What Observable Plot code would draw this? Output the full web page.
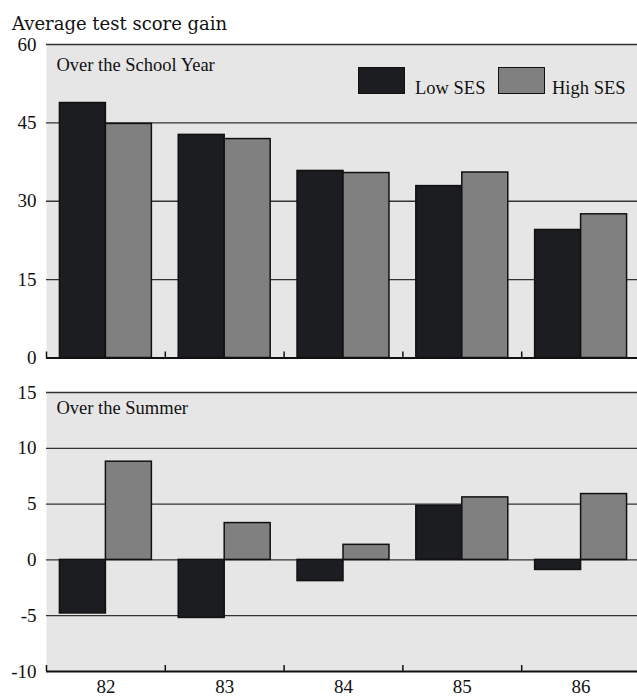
<!DOCTYPE html>
<html>
<head>
<meta charset="utf-8">
<script src="https://cdn.jsdelivr.net/npm/d3@7"></script>
<script src="https://cdn.jsdelivr.net/npm/@observablehq/plot@0.6"></script>
<style>
  html, body { margin: 0; padding: 0; background: #fff; }
  #wrap { position: relative; width: 637px; height: 697px; overflow: hidden; font-family: "Liberation Serif", serif; color: #111; }
  #title { position: absolute; left: 12px; top: 15px; font-family: "DejaVu Serif", serif; font-size: 18px; line-height: 1; color: #111; white-space: nowrap; }
  .panel { position: absolute; left: 0; }
  .sw { position: absolute; top: 67px; width: 45px; height: 25px; border: 1.5px solid #111; }
  .lab { position: absolute; top: 79px; font-size: 18.5px; line-height: 1; white-space: nowrap; color: #111; }
</style>
</head>
<body>
<div id="wrap">
  <div id="title">Average test score gain</div>
  <div id="top" class="panel" style="top:34px"></div>
  <div id="bottom" class="panel" style="top:366px"></div>
</div>
<script>
const years = [82, 83, 84, 85, 86];
const groups = ["Low SES", "High SES"];
const colors = ["#1c1d21", "#808080"];
const schoolLow  = [48.8, 42.7, 35.8, 32.9, 24.5];
const schoolHigh = [44.8, 41.9, 35.4, 35.5, 27.5];
const summerLow  = [-4.8, -5.2, -1.9, 4.85, -0.9];
const summerHigh = [8.8, 3.3, 1.35, 5.6, 5.9];
const schoolTicks = [0, 15, 30, 45, 60];
const summerTicks = [-10, -5, 0, 5, 10, 15];
const panelTitles = ["Over the School Year", "Over the Summer"];

const rows = (low, high) => years.flatMap((yr, i) => [
  {year: yr, group: groups[0], value: low[i]},
  {year: yr, group: groups[1], value: high[i]}
]);
const schoolData = rows(schoolLow, schoolHigh);
const summerData = rows(summerLow, summerHigh);

const barW = 0.387; // fraction of a year band occupied by one bar
const x1 = d => d.group === groups[0] ? d.year - barW : d.year;
const x2 = d => d.group === groups[0] ? d.year : d.year + barW;
const bounds = years.map(y => y - 0.5);

function panel({data, ticks, domain, height, marginTop, marginBottom, title, titleDy, axisAt, showX}) {
  const grid = ticks.filter(t => t !== axisAt);
  const marks = [
    Plot.frame({fill: "#e6e6e6", stroke: null}),
    Plot.ruleY(grid, {stroke: "#333", strokeWidth: 1.3}),
    Plot.rect(data, {
      x1, x2, y1: () => 0, y2: "value",
      fill: d => colors[groups.indexOf(d.group)],
      stroke: "#111", strokeWidth: 1.5
    }),
    Plot.ruleY([axisAt], {stroke: "#111", strokeWidth: 2}),
    Plot.ruleX(bounds, {y1: () => axisAt, y2: () => axisAt, insetBottom: 6, stroke: "#111", strokeWidth: 1.5}),
    Plot.axisY(ticks, {tickSize: 0, tickPadding: 10, fontSize: 19, label: null, tickFormat: d => String(d)}),
    Plot.text([title], {frameAnchor: "top-left", dx: 10, dy: titleDy, lineAnchor: "top", textAnchor: "start", fontSize: 18.5, fill: "#111"})
  ];
  if (showX) marks.push(Plot.axisX(years, {tickSize: 0, tickPadding: 8, fontSize: 19, label: null, tickFormat: d => String(d)}));
  return Plot.plot({
    width: 637, height, marginLeft: 46, marginRight: 0, marginTop, marginBottom,
    style: {fontFamily: "Liberation Serif, serif", fontSize: "19px", color: "#111", background: "transparent", overflow: "visible"},
    x: {type: "linear", domain: [81.5, 86.5], range: [46, 640], axis: showX ? undefined : null},
    y: {domain, axis: null},
    marks
  });
}

document.getElementById("top").appendChild(panel({
  data: schoolData, ticks: schoolTicks, domain: [0, 60], height: 332, marginTop: 10, marginBottom: 8.5,
  title: panelTitles[0], titleDy: 13, axisAt: 0, showX: false
}));
document.getElementById("bottom").appendChild(panel({
  data: summerData, ticks: summerTicks, domain: [-10, 15], height: 331, marginTop: 26, marginBottom: 26,
  title: panelTitles[1], titleDy: 8, axisAt: -10, showX: true
}));

// legend (swatch left edges and label left edges, in page pixels)
const legendPos = [[358, 415], [498, 552]];
const wrap = document.getElementById("wrap");
groups.forEach((g, i) => {
  const sw = document.createElement("div");
  sw.className = "sw"; sw.style.background = colors[i]; sw.style.left = legendPos[i][0] + "px";
  const lab = document.createElement("div");
  lab.className = "lab"; lab.textContent = g; lab.style.left = legendPos[i][1] + "px";
  wrap.appendChild(sw); wrap.appendChild(lab);
});
</script>
</body>
</html>
